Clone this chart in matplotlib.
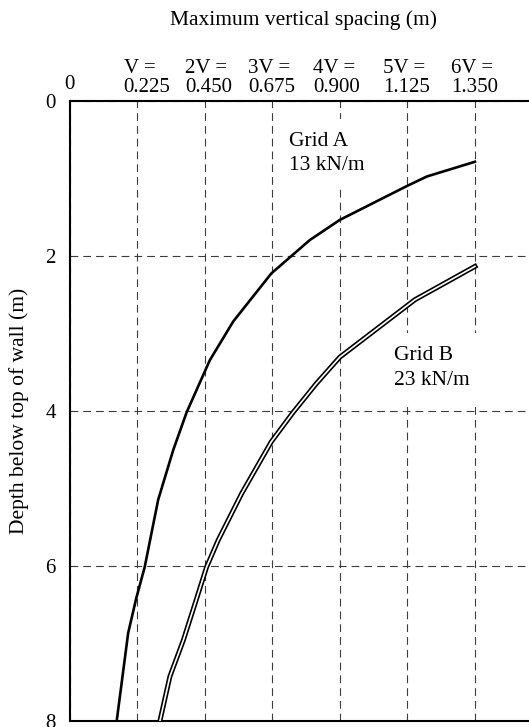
import matplotlib
matplotlib.use("Agg")
import matplotlib.pyplot as plt
from matplotlib.transforms import ScaledTranslation

plt.rcParams["font.family"] = ["Liberation Serif", "DejaVu Serif"]

# Spacing values along the top axis (multiples of V = 0.225 m)
spacing_ticks = [0, 0.225, 0.450, 0.675, 0.900, 1.125, 1.350]
spacing_labels = ["0", "V =\n0.225", "2V =\n0.450", "3V =\n0.675",
                  "4V =\n0.900", "5V =\n1.125", "6V =\n1.350"]
depth_ticks = [0, 2, 4, 6, 8]

# Grid A, 13 kN/m : maximum vertical spacing (m) vs depth (m)
grid_a_spacing = [1.35, 1.19, 1.125, 0.90, 0.80, 0.672, 0.545, 0.467,
                  0.39, 0.345, 0.295, 0.25, 0.222, 0.195, 0.157]
grid_a_depth = [0.79, 0.98, 1.10, 1.54, 1.80, 2.23, 2.85, 3.35,
                4.02, 4.51, 5.15, 6.02, 6.42, 6.87, 8.0]

# Grid B, 23 kN/m
grid_b_spacing = [1.35, 1.15, 0.90, 0.822, 0.745, 0.672, 0.573, 0.495,
                  0.456, 0.421, 0.379, 0.334, 0.301]
grid_b_depth = [2.14, 2.57, 3.31, 3.65, 4.02, 4.40, 5.07, 5.67,
                6.02, 6.45, 6.96, 7.43, 8.0]

fig = plt.figure(figsize=(5.29, 7.27), dpi=100)
ax = fig.add_axes([69.6 / 529, 1 - 720.7 / 727, 1 - 69.6 / 529, (720.7 - 100.5) / 727])

ax.set_xlim(0, 1.53)
ax.set_ylim(8, 0)

ax.xaxis.tick_top()
ax.set_xticks(spacing_ticks)
ax.set_xticklabels(spacing_labels, fontsize=15, linespacing=1.0,
                   multialignment="left")
ax.set_yticks(depth_ticks)
ax.set_yticklabels([str(d) for d in depth_ticks], fontsize=15)
ax.tick_params(axis="x", length=0, pad=2.5)
ax.tick_params(axis="y", length=0, pad=10)

# small horizontal nudges of the top labels (pixels), and the lone "0"
# raised a little above the numbers row
label_shift_x = [0, 10, 4, -1, -3, -1, 0]
label_shift_y = [3, 0, 0, 0, 0, 0, 0]
for lbl, dx, dy in zip(ax.get_xticklabels(), label_shift_x, label_shift_y):
    lbl.set_transform(lbl.get_transform()
                      + ScaledTranslation(dx / 100, dy / 100, fig.dpi_scale_trans))

for side in ("left", "top", "bottom"):
    ax.spines[side].set_linewidth(1.5)
    ax.spines[side].set_color("black")
ax.spines["right"].set_visible(False)

ax.grid(True, color="#3c3c3c", linewidth=0.8, linestyle=(0, (7, 4.5)), zorder=1)
ax.set_axisbelow(True)

fig.text(304 / 529, 1 - 20 / 727, "Maximum vertical spacing (m)",
         ha="center", va="center", fontsize=15.5)
ax.set_ylabel("Depth below top of wall (m)", fontsize=15.5, labelpad=12)

# curves
ax.plot(grid_a_spacing, grid_a_depth, color="black", linewidth=1.9,
        solid_joinstyle="round", zorder=4)
ax.plot(grid_b_spacing, grid_b_depth, color="black", linewidth=3.6,
        solid_joinstyle="round", zorder=4)
ax.plot(grid_b_spacing, grid_b_depth, color="white", linewidth=1.2,
        solid_joinstyle="round", zorder=5)

box = dict(boxstyle="square,pad=0.6", facecolor="white", edgecolor="none")
ax.text(0.73, 0.40, "Grid A\n13 kN/m", fontsize=15.5, ha="left", va="top",
        linespacing=1.4, bbox=box, zorder=3)
ax.text(1.08, 3.17, "Grid B\n23 kN/m", fontsize=15.5, ha="left", va="top",
        linespacing=1.4, bbox=box, zorder=3)

fig.savefig("out.png", dpi=100)
